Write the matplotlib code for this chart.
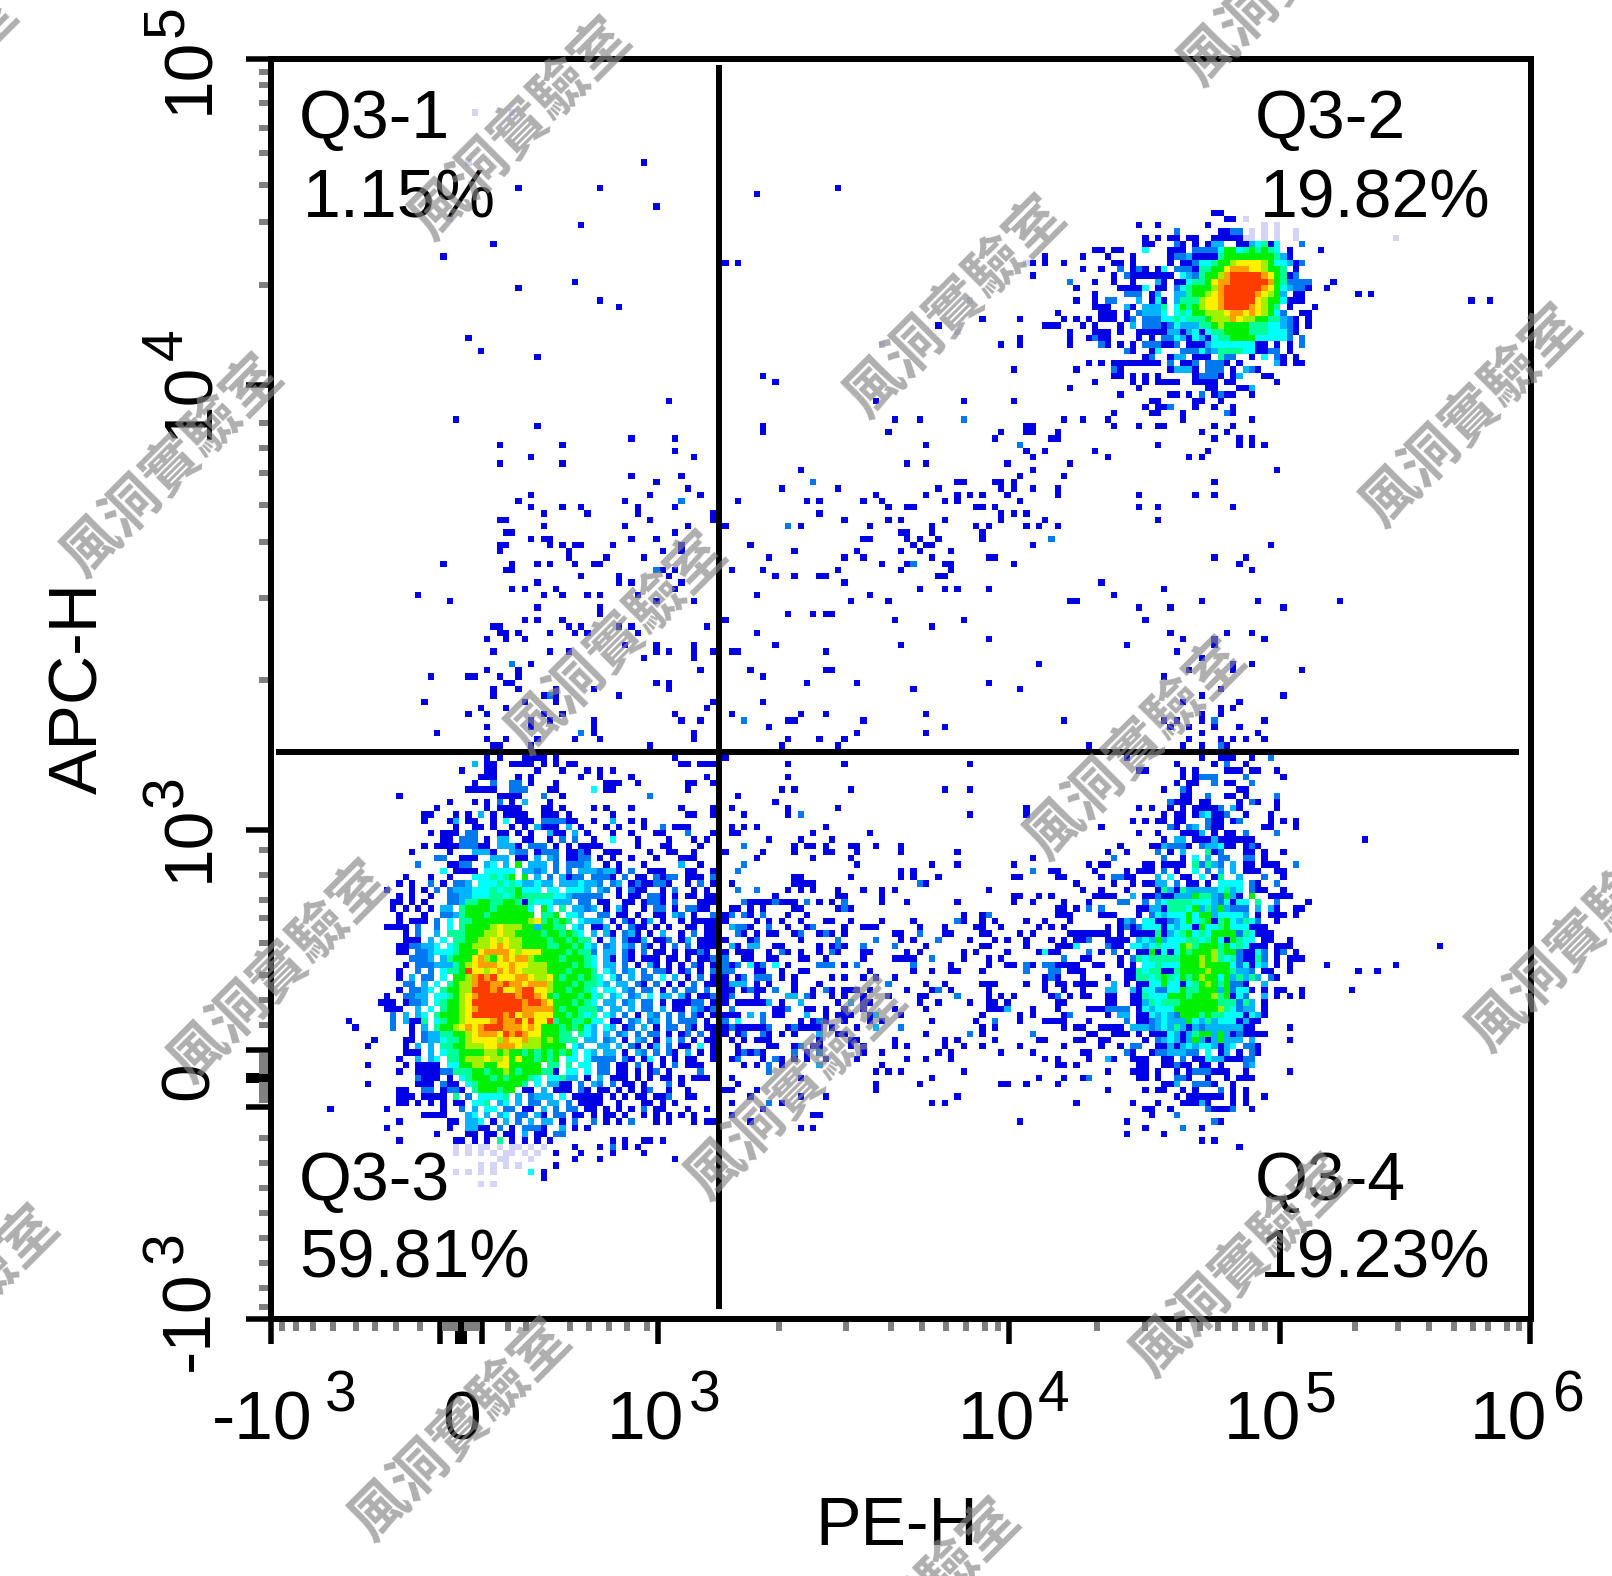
import numpy as np
import matplotlib
matplotlib.use("Agg")
import matplotlib.pyplot as plt
from matplotlib.colors import ListedColormap

W, H = 1612, 1576
CELL = 6.27
X0, Y0 = 270.5, 59.2
N_BINS = 201

# density levels: 0 empty, 1..10 blue to red, 11 = faint lilac
palette = ["#FFFFFF", "#0000E6", "#0078F0", "#00B4FF", "#00FFFF", "#00FF96",
           "#00F000", "#A0F000", "#FFF000", "#FFA000", "#FF3C00", "#D4D4F6"]

# Q3-3 population: one string per histogram row, starts at col 18, row 112
q3_3_rows = [
"..............3.11..1111.1.1.11................11.111.",
"............1...11......1...1...1.1.1.................",
"...............111...1.1.......1..1....1...........1..",
"..............1..2..22.1...1.......111..1.......11..1.",
".............11111..222...11.....4.11...........1.....",
"..1...............1111...2..1.............2...........",
"..........1...1.1.2.1.3...1...........................",
"........1.......1.1111...11.1....1.1...1.......1....1.",
"......11...1.1.3.1.1111..111.1......1...........11..1.",
"......1...13.11..1.4.111.222211..1..3..1.1............",
"...........1..11.1..1.1.3111.3.1...1.1...1..2.111.....",
".......1.111.22...11.1.1..311.3.1...1..1...11...2...1.",
".........11.222.1.33..11..1.2.2..1..4...1....1...1.1..",
"......1.111122211.3331.222.1.1.1111.....1...11....1...",
"....1.....1...3331..322.1222.1121..111....1..11..1...1",
"........22..111..333.11.3.32.1122.1.1..1...1...111....",
".....2....1122..34.3.6.333.2.2223..1.1...1.....3..1..2",
".........4.1111.44444.3323.2.2.3332331.2..111...11..11.",
"...1...1..1...4445456.6.3.2.3122.2221.2.11.2122.111.21",
"..1.1..2.1.223.444545433433.3334332.23.1211221..1.2.1.",
"1...1.1.2.233344454556444.44.444332.23111.12..1..1112.",
"..1.1..1..22334445545655555443222322.211.2212.11.1.11.",
".11.1.1...22355665566515444333.2211.1.12221.2.11..111.",
".1.1.1.1.33.566665666664.64.5.33233.3.1.1.22.3.2211.1.",
"..1...1..223566656666666.556.443.223.3.11.2.32.11..212",
"..1.111.2.4.556666666667856565.433.32.1.31.13.11.11111",
"1111.2..2.4.56666787776636655.43.113.1.211.11..11.111.",
"...1.2..3.5556667787766665665444.3.33.231.1.3.1.2..111",
"...111.3.4.55667787877666655644.55.3.21.3.112.13.11111",
"..1122334.4566777898776666565545.3.53.32.21.1.2.2.1111",
"..11.22344456668999987888667565555.33.2.32.11.1..11.11",
"....2223.35666897689899766666655.445.21.1111.11.1..21.",
"...1.22233356789998898877766765544.433.2.1.3.1.1.2.1.2",
"..1..2.2.4556a88789898777766766554455.3.23.2.22.1.1.21",
"..1.3.22.4.6679a9a888998778676654455525.3.22.4.3.1.212",
"...22.3.4.56779aa99a998999776755554455.33.21.1.1.2.112",
"..1.2234.56677aaa9a889aa8878766545544.32.22.1.2.22.2.2",
"1..2233.4456789aaaaaa9aa9867878615.445.23.4.33.3.1122.",
"11.1223.456678aaaaaaaa9aa987877655.5.33.23.22.1.11122.",
"111..3.4.566789aaaaaaa9999976766555.33.3.22.3.11.3212.",
".2.3.34.566678aaaaa9a899888776665544.43.2.1.32.2.2.21.",
".2.3115.4566788889a99a8a88a89677655.44.11.23.23.2.222.",
".2..1.3.56678989aaa99989866776564.43.12.3.1.22.21.112.",
"....1.233556678999" + "8a9a98866665.54.3.23.2.22.1..2.2..1.",
"...11.2334556788887988977676555.3.23.1.32.1.3.2.1.11..",
"...1.3.3.55667778899987776666.43.33.3.21.13.2..1.4.1..",
"...111.3.4556666776766565656564.4.33.1.32.2.21.3.1.1..",
"..1..3.34.556777877868665656.44.42222.21.14.1.1.11....",
"...1.1111.446677668866666.55.5.44.22.11.2.1.1.2.111...",
"..1..11112255566566765666551.44.4.22.11.1.12.1....2...",
".....2111.1.4566656566654.44533.1.3.111.1.1.11.1.111..",
".....111.211.4566666665.4.3311.2.32.2.11.1...2.1......",
"..11..22.1221.5666566.11.3.111.21.11.1.1.12..1..1.....",
"..111.1111.5.2.44445.3.2333.4.11111.1.1.11.112..11....",
"..11.1.1.1.11.445.34.3.22.33.2.1111..1...11.1.1.......",
"1........1..2.3.44.22.11.3.2.22.11.1.1.1.2.11...1..1..",
"......1111...34.3.34.22.31.22.11.1.11.1..1.1.1.1.1....",
"..1.......11.334.1.3.2.3.33.1.2..2.1.1.2...1.1...1.11.",
"1.........1..3311.2.1.2221..3.1.1.....................",
"........1....11.11.11.3.11.22.........................",
"..1........11.1.1.5.1.1.1.1.........1.1..11.1.........",
"...........l.l.ll.l.ll.l.l....1...1.2.1.1.............",
"...........l.l.l.l.ll.l.l..1...1....1....1............",
"..................ll...l......1...1...........1.......",
"...............l.l.l.l.....1..........................",
"...........l.l.l.l.....4.1............................",
".........................1............................",
"...............l.l....................................",
]
# second reading of the tail of Q3-3 (cols 51-71), first string is row 132
q3_3_tail_rows = [
".32.1.211..1.2..1.1.1", "22..1.11.221.1.11.11.", ".11..11.1221.2...1111", "3.1.31..1.22.1.2211.1",
".22.11.1..11.32.1..21", "33.1.21.13.1..1.11111", "113.1.211.1.1..11.111", "3.31.231.1.3..1.2.111",
".1.3.2113.112.13.1111", "3.23.32.21.1.2.2.1111", "2.33.21.2.11.1.1121.1", "4.31.21.111.11.1.1121",
"3.33.2.1.31.1.1.21.12", "4.43.23.2.221.12.1.21", "34.42.3.22.4.3.1.2.12", "443.33.21.2.1.1.2.112",
"3.44.32.22.1.2.22.2.2", "45.34.23.4.33.31.1122", "4.33.23.22.1.11122.1.", "53.33.3.22.3.11.3212.",
"5.43.2.1.32.2.2.21.12", "44.11.23.23.2.222.1.1", "3.43.12.3.1.22.21.112", "3.3.23.2.22.1.12.2.11",
"3.23.1.32.1.3.2.1.11.", ".33.3.21.13.2.11.4.1.", "3.33.1.32.2.21.3.1.1.", "2222.21.14.1.1.11..1.",
".22.11.2.1.1.2.111...", ".22.11.1.12.1....2...",
]
# green shoulder of Q3-3 on its right flank: cols relative to col 18, by row
q3_3_shoulder = {
139: "27:6 28:5 29:6 30:5", 140: "27:6 28:6 29:5 30:6 31:5", 141: "27:5 28:6 29:6 30:5 31:6 32:4",
142: "27:6 28:6 29:5 30:6 31:5 32:5", 143: "27:6 28:5 29:6 30:6 31:6 32:5", 144: "27:6 28:6 29:6 30:5 31:6 32:5 33:4",
145: "27:6 28:6 29:5 30:6 31:6 32:6 33:5", 146: "27:6 28:5 29:6 30:6 31:5 32:6 33:5", 147: "27:6 28:6 29:6 30:5 31:6 32:5 33:5",
148: "27:6 28:6 29:5 30:6 31:6 32:5 33:4", 149: "27:5 28:6 29:6 30:6 31:5 32:6 33:4", 150: "27:6 28:6 29:6 30:5 31:6 32:5",
151: "27:6 28:5 29:6 30:6 31:5 32:5", 152: "27:6 28:6 29:5 30:6 31:5 32:4", 153: "27:5 28:6 29:6 30:5 31:5",
154: "27:6 28:5 29:6 30:5", 155: "27:6 28:5 29:5",
}

# far left of Q3-3, absolute cols by row
q3_3_left_cells = {150: "17", 153: "12", 154: "13", 156: "16", 157: "15",
                   160: "15", 163: "15", 167: "9"}

# Q3-4 bridge between populations: cols relative to col 72, by row
bridge_cells = {
118: "8", 119: "1 10 18 48", 120: "3 10 12:2 39 48", 122: "1 3 5 16", 123: "1 2 14 23",
124: "7 12 17", 125: "3:2 11 13 14 16 20 21 24 28", 126: "0 6 11 16 17 21 28 37",
127: "5 14 20 49", 128: "3:2 21 33 37 46", 129: "2:2 28 30 49:2 52 53",
130: "11 12 20 28 30 34 46 47", 131: "1 11 12 13 14 31:2 32",
132: "2:2 5:2 10 12 14 18 22 25 27 42", 133: "8 18 19 25 46 47 50 52",
134: "3:2 4 5 6 7 8:2 9 10 11 13:2 15 17 19:2 25 29 37 46 49",
135: "1 2 4 6 11 12 18 19:2 20 53", 136: "0 1:2 3:2 4 6:2 10 13 38 41 42:2 53",
137: "0 5 7 9 12 16 17 20 25 30 37:2 38 41 43 48 51",
138: "1:3 2:2 3:2 4 7:2 10 13 14:2 19 22 23 24 31 35 40 41 44 50 52",
139: "2:2 3 5 7 8 11 12:2 15 16:2 17 19 27 28 31:2 35 36 41 42 47 49",
140: "0 4 5:2 12 18:2 24:2 28 30 34:2 39 43 45 48 52",
141: "1:3 2 4:3 5:3 8 9 15 17 18:2 19 22:2 27:2 32 41 42 48 53",
142: "0 2 3 4 7 9:2 10 12 15 17:2 18 22 23 29 31 38 40 45 50 51:4 52 53",
143: "0:2 3 4 7 8 12 13 16 22 27 28 29 30 33:2 38 42 44",
144: "0:2 1 2:2 4:4 5 6:2 8:4 10 15:2 16:2 17:2 19 21:2 30:2 36 42 45 46 48:2 49 51:2 52:2",
145: "0:2 1:2 5 6 9 12 13 23 30 33 36 37 41 48:2 52:2 53",
146: "0 2 3:2 5:2 6:2 7:2 9 11 17 19 22 24 27 51 52:2",
147: "0 1:3 2:3 3:3 5 7 11 15 26:2 32 35 41 42 43 48 51 53",
148: "0 1 3 4:2 5 6 8:2 11 14 16:2 17 19 20 21 23 29 33 34:2 36 42 51",
149: "0 1:2 5 10:3 11:3 13:2 14 17 19 22 26 31 32 37:2 42 44 46 52 53:3",
150: "0 2 3 4 5 6 7:3 9 12:3 18 20:3 22 23 31 34 39 42 43 45 53",
151: "1:2 8 9 10:2 13 14 16 19 22 27 32 42 43 44 45:3 49 53",
152: "0 1 2 4:3 6:2 8 9 13:3 16 18 19 20 23 24:3 28 41 47 49",
153: "0:2 2:4 6:2 12 14 15:2 16 19 23 25 33 40 43:2 47 51 52 53",
154: "0 1:2 2 3 4 5 6 7:2 10 11:2 12 13 14 15 17 21 24:3 28:2 41 43",
155: "0 2 3:2 6:2 7 9 11 15:3 18 19 32 39:2 41 49:2",
156: "1 3 5 6 7 15 20 21 27 35 37 43 50 51",
157: "2 7 8 11 12:2 14 15 20 22 27 29 35 38 41 47",
158: "2 3:2 4 5:2 6 11:2 13 15:2 22 25 34 36 44 49",
159: "1 2:2 6 8:2 9 11 13 16 21 29 32 36 51 53", 160: "3 5 7:2 9 15:3 25 53",
161: "7:2 24 26 28 38", 162: "1 12 33 50", 163: "2 24 31 44 45 48 53", 164: "0 1 5 24",
165: "4 12 16 37", 166: "1 7:2 9 33 35", 167: "6", 168: "1 14 15", 169: "4 47", 170: "12 14",
}

# Q3-4 population: cols relative to col 125, rows relative to row 112
q3_4_cells = [
"19 25 27:2 30", "13 14 20 22 27 28 29 31 32 35", "20 22 23:2 24:2 25:2 30:2 36",
"19 21 22 25:2 27 28 31:2", "17 20:2 21 29 30", "20 21 24:2 27 28 30 35:2",
"18:2 19 20 21 23 24 29 31:2 32 35", "13 15 18 20 22 23 24 25 26:2 28:3 29 35",
"17 19 20 22 23:3 24:4 25 26 27:2 30 34", "12 14 16 17 19 20 24:2 25 26 28 29:2 34 36 38",
"7 18:2 19 21:2 22:3 24:2 25 26 33 34 38", "13 16 20 21 22 23:3 25 27 28 30:2 35:2",
"17 19:3 20:3 22 23 24 25:3 26 27 28 29 30 31", "10 15 16 17:3 18:2 19:2 20:2 21 23:2 24:3 25:3 26:4 27 28 30 31:2 32",
"8 11 16:2 18 20:3 24:5 25 26:2 30 31 33 36", "9:2 17:2 20 22:4 24:3 26:2 27:2 30:2 31:2 33",
"5 7 8 14 15 17 18 19 20 22:5 23:2 24:5 25:3 26:2 28:3 30 31 33 34 35 38:2",
"6 11 13 14 15 17:2 19 22:4 24:2 26:3 28:3 30 31 32 35 36",
"0 1 7 9:2 10:2 11 12 16:3 18:4 20 21 23:4 25 26:5 29:3 33:2 36",
"3 9 12 14 15 16:3 17:3 19:2 21 22 24 26:4 27:4 28:4 29:4 31:2 32 35:2",
"4 7 11 16 17:5 19 20:5 22:3 24:3 26:4 27:5 29:4 31:2 32 33 36",
"6 7 8 9 12:3 14 15 16:2 17 18 20:3 21:3 22:6 23:5 24:5 26:2 27:6 29 31:6 34 35 36 37",
"1 5 10:2 11:2 14:2 16:3 18:5 19:5 20:5 21:5 23:4 25:3 26:2 28 32:5 35:2 40",
"0 1 3 5:2 7:2 13 14 16:3 17 18:5 19:5 20:5 21:4 22:6 24:5 26:6 28:2 29:2 30:2 32:3 34:3 35 38 39",
"0 1 2 7 8 9 13 15:2 17:3 19:4 21:6 23:6 24:6 25:3 27:4 30:3 32 34 35 36 38",
"2 10 11:3 12:2 16 17 18:2 19:3 21:6 23:5 24:6 25 26:5 27:6 29:3 30:5 32:2 35",
"1 8 10 11:2 12 13:2 17 19:3 20:4 22 23:6 25:4 26:5 27:6 28:4 31 32 33",
"2 3 4 5 6 7 8 10 12 13 14 15 16:5 17 18:3 20:5 21:6 23:5 25:6 26:6 27:6 28:6 29:2 30:5 32 33 34",
"1 3 4 5:2 8 9 10 11 13:3 15:3 16:6 17:3 19:4 21:5 22:5 24:5 25:6 27 28:6 29:5 33 34 37",
"0 1 2 3:4 8:2 9 10 12:4 14:3 16:5 18:4 20:6 21:7 22:5 23:6 24:6 26:5 27:6 29:5 31 32 33 35 36 37",
"0 5:2 7 9:2 11 13 14 15:6 16 18 20:6 21:5 23:6 24:6 25:7 26:5 28:6 29:2 30 31 33:2 35 36:2 38",
"1:2 4 5 10 12:2 14:4 16:5 18:5 21:6 22:6 23:7 25:7 26:5 27:4 29:2 30 31 33:2 35 37 38 39",
"0 1 2 3 6 7 10 12 14:4 15:4 16:5 18:4 20:6 21:6 23:7 24:6 25:6 26:6 27:6 29:2 31 33:3 35 37 43",
"0:2 2 3 4 11 12 14:4 17 18 20:6 21:6 22:6 24:7 25:6 27:6 29:3 30:3 31:2 33 34 37",
"0 4 8 11 12 15:4 17:6 19:4 21:5 23:7 24:6 26:4 28:3 30:3 32:3 34:2 35",
"0 1 3 4 5 6 9:3 11 13 14 16:4 17:6 20 21:4 22:5 23:6 24:7 26:5 28:2 29:2 30 33:3",
"1 4 8:3 9:3 12:3 13 16:2 17:2 18:4 21:5 22:5 24:6 26:3 28:2 31 33 35 36 39",
"0:2 2 4 5 8 9 12 13 14:5 18:6 19:6 21:5 23:6 24:6 25:7 26:5 28 30:2 33:3 35 37 39",
"0 1 8 9 12 13 14:3 16:4 17:5 18:5 20:6 21:6 23:6 24:6 26:5 27:5 29:2 31:3 33",
"0 5 6 7 8:2 9:2 10:2 11:2 13 15:3 17:4 19:6 20:6 22:6 24:6 26:7 27:5 29:2 30:3 31:3 33",
"1 2:2 8 10:3 11:3 13 14 16:3 18:3 19:2 21:6 23:5 25:5 26:5 27:4 30 32:3 33",
"0 1 5 11:2 13 14 15:2 17:4 20:3 21:6 22:4 24:5 26:4 27:4 28:4 29 31 32",
"1 3 4 7 8 9 10 12:3 13:3 15:2 17:4 19:5 21 23:2 24:3 26:3 27:3 30 31 37",
"5 6 9 10 11 13 15 16 17 18:4 20 22:5 23:6 24:6 26:6 28 29:2 30 31 32 33",
"3 4 7 8 14 16:2 18:4 20 21:3 22:6 24 26:6 27:3 31:3 37",
"1 7 10 12:2 13:2 16 17 19 21:4 23:4 24:4 26 28:4 30:2 31:2 32",
"4 5 11:2 12 15 16:2 17:2 18:3 19:3 20:3 21:2 22:2 24:4 26 27:3 29 31:2 32",
"0 5 8:3 9 12 13 14 17 18 20:2 22 23 24:4 25:3 26:3 27 28 29 30:2 31:2",
"0 1 3 13 14 17 18 19:2 20 21 23 24 26 30:2 31:3",
"8 12 13 14 16 19 21 22:2 23:2 24:2 25 26 27 30 37",
"1 4 5:2 13 14 16 19:2 20:2 21 24 27 29 30 31", "0 17 18 19:3 22:2 23:2 24:2 25 28",
"8 14 16 17 20 22 26:2 28 30", "19 21 22 23 24 25 26 28 30 33", "3 12 16 20 21 22 23:3 24 28 30",
"14 15 18 24:2 25 26 27 28:2 31", "15 19:2", "11 25:2 26", "14 20:2 23", "11 17", "23 25", "29",
]
# background level of the Q3-4 core, written only into bins left empty above
q3_4_core = {
20: "17-29:3", 21: "17-29:3", 22: "16-30:4", 23: "15-30:3", 24: "15-30:4", 25: "14-31:4",
26: "14-31:4", 27: "14-31:4", 28: "13-31:4", 29: "20-27:6 13-31:4", 30: "20-27:6 13-32:4", 31: "20-27:6 13-32:5",
32: "20-27:6 14-32:4", 33: "20-27:6 13-31:5", 34: "20-27:6 13-31:5", 35: "20-27:6 14-30:4", 36: "20-27:6 13-30:4",
37: "20-27:6 13-30:4", 38: "20-27:6 13-31:5", 39: "20-27:6 13-31:4", 40: "20-27:6 13-31:4", 41: "13-31:3", 42: "14-30:3",
43: "16-29:3", 44: "16-29:3", 45: "17-28:3",
}

# Q3-2 population: cols relative to col 125, by row
q3_2_cells = {
24: "25 26", 25: "27 28 30:l", 26: "13 16 24 33:l 35:l", 27: "19:2 26 27 28:2 29:2 31:l 33:l 35:l 38:l",
28: "14 16 18 19 21 22 25 26 27 28 29 30:l 31:l 33:l 35:l 38:l",
29: "14 15 19:2 20 22 24 25:3 26:3 29 30 31:3 32:4 33:5 34 35:4 39:2",
30: "6 7 9 10 14:4 18 19 20 22:2 23:2 24:2 25:2 26:4 27:6 28:6 29:4 30:5 31:6 32:5 33:6 34:5 35:4 37 42",
31: "4 8 12 18 19:2 20:2 21:3 22 23 24 25 26:5 27:6 28:6 29:6 30:6 31:6 32:6 33:6 34:6 35:5 36:3 37",
32: "1 9 10 12 18 20 21 22:2 23:4 24:4 25:5 26:6 27:6 28:7 29:8 30:8 31:8 32:8 33:7 34:6 35:4 36:4 37:3 38 39:2",
33: "4 7 10:2 12 13:2 14 16 17:4 19:2 20:2 21:2 22 23:5 24:5 25:6 26:6 27:8 28:9 29:9 30:9 31:8 32:8 33:7 34:6 35:6 36:5 38",
34: "9 11:2 12 13 14 15 16 17 18 20:4 21:3 22:2 23:5 24:6 25:6 26:7 27:9 28:a 29:a 30:a 31:a 32:a 33:9 34:8 35:6 36:5 37 38:2",
35: "2:2 6 9 12 16:3 17 19 20 21:4 22:5 23:5 24:6 25:8 26:9 27:9 28:a 29:a 30:a 31:a 32:a 33:a 34:9 35:6 36:5 37:2 38:2 39:2 40:2 44",
36: "3 10 11 12 13 14:4 16 17 19:2 20:4 21:5 22:6 23:6 24:6 25:7 26:9 27:a 28:a 29:a 30:a 31:a 32:a 33:9 34:8 35:6 36:4 37:3 38:2 39:2 40 43",
37: "6 11:2 12:2 13:2 15 16:3 19:3 20:3 21:5 22:6 23:6 24:7 25:8 26:9 27:a 28:a 29:a 30:a 31:a 32:9 33:8 34:7 35:6 36:3 38 39",
38: "3 6 8:2 9:2 13:3 15 16:4 17 19:3 20:5 21:5 22:5 23:7 24:8 25:8 26:9 27:a 28:a 29:a 30:a 31:a 32:8 33:7 34:6 35:6 36:4 37 38 39",
39: "6 7 8 11:3 12 14:3 15:3 16:3 17:5 19:4 20:6 21:5 22:6 23:7 24:8 25:8 26:9 27:a 28:a 29:a 30:a 31:9 32:8 33:7 34:6 35:5 37 41",
40: "0 7 8 9 11 13:2 14:3 15:3 16:3 17:4 19:4 20:5 21:4 22:6 23:6 24:7 25:7 26:7 27:8 28:9 29:9 30:8 31:9 32:8 33:7 34:6 35:4 36:2 39 40",
41: "1 3 5 7 8 9 11 12:2 14:2 15:2 16:2 17:4 18:4 19:5 20:4 21:5 22:5 23:5 24:6 25:7 26:7 27:7 28:9 29:8 30:7 31:7 32:6 33:6 34:5 35:5 36:3 37:2 38 40",
42: "0 4 6 10 12:3 14:2 15:2 16:2 17 18:2 19:4 20:3 21:3 22:3 23:5 24:5 25:6 26:7 27:6 28:6 29:6 30:6 31:5 32:5 33:5 34:4 35:4 36:3 37:2 38 40",
43: "2 6 7 8 10 13 14 15 16 17 18:3 19:3 20 21:3 22:4 23 24:4 25:5 26:5 27:6 28:6 29:6 30:6 31:5 32:5 33:5 34:4 35:4 36:4 37:2 38",
44: "2 5 6 7 8 13 15 17:2 18:2 19:4 20:3 21 22:4 23:3 24 25:4 26:5 27:5 28:6 29:6 30:6 31:6 32:4 33:4 34:4 35:4 36:4 37:2 39:2",
45: "2 7:2 8 10 12 14:2 15:2 16:2 17 18 19:2 21 22 23 24:3 25:4 26:4 27:4 28:4 29:4 30:4 31:4 32 33 35 37 39:2",
46: "11:2 12 15 16:4 20:2 21:2 22:2 23:4 24:2 25:3 26:5 27:5 28:5 29:5 30:4 31:4 32 33 34:2 35:2 37",
47: "14 15:2 18 19:3 20:3 22 23 24 26:5 27:2 28:2 31 33:4 35:2 36 38",
48: "5 7 9 10 11 12 13 14 15 16 18:2 20 21 22:2 24:2 25:2 26:2 27 29 35:3 36 38 39",
49: "3 9:2 10 18 19:3 20:3 21:3 22 24:2 25:2 26:2 28 30:3 31:2 32",
50: "9 10 12 14 16 22 23:2 24:2 25:2 26 28 29:3 33 34", 51: "6 12 14 16 17 18 19 22 23 24 25 27 28 35",
52: "2 13 24 25 29 30 31:3", 53: "10 18 19 21 23:2 25 26:2 27 28 31", 54: "15 16 22 23 26",
55: "14 16 17 18:2 22 25 28", 56: "9 15 16 20 27:2 28", 57: "1 4 8 20 31", 58: "9 13 16 17 25 28",
59: "0 23 27", 60: "0 25 29 31", 61: "16 29 31 33", 62: "6 24", 63: "8 21 23", 64: "2", 65: "35",
}

# scattered events, absolute cols by row
upper_left_cells = {
8: "32:l 38:l", 16: "59 31:l", 20: "39 52", 23: "61", 25: "28:l", 26: "49", 29: "35", 31: "27",
35: "48", 36: "39", 38: "52", 39: "55", 44: "31", 46: "33", 47: "42", 54: "63", 57: "29", 58: "42",
60: "57 64", 61: "36 46", 62: "64", 63: "41 67", 64: "36 46", 66: "57 65", 67: "61", 68: "66",
69: "41 60 68", 70: "39 56 65:2", 71: "41 46 49 58 64", 72: "43 50 58 70", 73: "36 37 60 70",
74: "43 56 66 72", 75: "37 38 64", 76: "41 43 44 57 61", 77: "36 37 44 46 48 49 54 65",
78: "36 47 62 65", 79: "47 53 59", 80: "27 38 42 44 48 51 52", 81: "37 38 61:2 62 64 73",
82: "49 55 63", 83: "42 55 57 65", 84: "38 40 45 64", 85: "23 43 46 50 52 58", 86: "28 61 67",
87: "42 52", 88: "52", 89: "40 42 46 72", 90: "35 36 47 49 55 57 69", 91: "36 37 39 44 48 50 58",
92: "34 37 40 71", 93: "56 61 67", 94: "35 44 47 61 63 67 70 73 74", 95: "59 67", 96: "38:2 41",
97: "34 39 68", 98: "25 31 32 36 39", 99: "37 38 61 63", 100: "35 39 45 51 63", 101: "35 43 44:2 45 55",
102: "24 40 45 70", 103: "33 37 69", 104: "31 34 43 46 64 73", 105: "41 44 51 65 68", 106: "34 41 51",
107: "26 49:2 51 67", 108: "34 37 42 48 52 67", 109: "35 36 41 60", 111: "34 36 40 41 42 43 45 64 72",
}
upper_mid_cells = {
20: "90", 21: "77", 31: "123", 30: "131 132", 32: "72 74 120:l 121 123 126", 33: "129 132", 34: "121",
35: "127:2 131", 36: "128", 37: "131", 38: "111:l 128 131", 39: "131", 40: "125 132", 41: "113 119 126 128 130",
42: "106 123 124 129 131", 43: "109:l 127 131", 44: "119 127 130 131:2", 45: "97:l 116 119 127 132:2",
48: "130 132", 49: "118 128", 50: "78", 51: "80 131", 52: "127", 54: "96 110 118",
56: "134", 57: "99 103 110:2 126 129 133", 58: "78 120 121 134", 59: "78 98 116 120 121 125",
60: "115 124", 61: "104 119:2", 62: "120 123 131", 63: "121 133", 64: "101 104 117 127", 65: "84 121",
66: "119 126", 67: "86:2 109 110 115 116 118", 68: "81 90 106 116 118 121 125", 69: "96 104 109 111 113 117 125",
70: "74 85 87 94 97 107 109 119", 71: "98 101 102 112 113 115", 72: "87 116 118 120", 73: "91 98 100 107 116 123",
74: "72 82:2 84 95 105 112 114 120 122 125", 75: "100 101 105 113", 76: "94 95 101 103 106 113 124:2",
77: "76 102 104 105 121", 78: "83 93 100 103 108", 79: "79 91 94 105 114 115", 80: "97 101 102:2 107 108 118",
81: "73 78 90 100 108", 82: "80 83 87 88 106 107", 83: "91 132", 84: "103 107 109 114", 85: "77 95 134",
86: "92 98 127 128", 88: "82 86 88 89", 89: "72 99 110", 90: "105", 91: "77", 92: "114", 93: "80 100",
94: "73 74 88", 96: "122", 97: "76 88 89", 98: "78", 99: "85 93 114", 100: "102 119", 102: "78",
104: "73 84 88 104", 105: "75:2 82 83 94 126", 106: "79 107", 107: "93 104", 108: "82 87 91", 109: "81 90 130",
112: "82 91 111", 114: "82", 116: "81 83 92 107 111", 117: "74",
}
upper_right_cells = {
28: "179:l", 37: "173 175", 38: "191 194", 60: "150 156", 61: "141 154 156 158", 62: "149", 63: "146 148",
65: "160", 67: "150", 69: "138 147 150", 71: "138 141 153", 73: "141", 77: "159", 79: "150 155", 80: "154",
81: "156", 84: "142", 85: "134", 86: "148 157 170", 87: "138 143 161", 89: "139", 91: "143 152 156",
92: "145 150 158", 93: "136 150", 94: "144", 95: "148", 96: "153 156", 97: "146 153 164", 98: "142",
100: "151", 101: "148 161", 102: "145 154", 103: "151 153", 104: "148 151", 105: "142 144 148 150:2 158",
106: "143 146 150 154", 107: "148 157", 108: "146 151 153 155 158", 109: "145 148 151:2 152",
111: "136 148 151 152 153 156 159:2", 124: "174", 141: "186", 144: "179", 145: "173 176", 148: "172",
}

# y ticks and x ticks, in image rows / columns of the original frame
x_major_px = [270, 439.5, 461, 482, 658, 1009, 1279.6, 1530]
x_minor_px = [282, 295.6, 313, 332.6, 356, 374.7, 395.7, 420, 445, 450, 455, 467, 472, 477,
              507.7, 526, 570, 588.5, 608.7, 627, 646.6,
              778.7, 846, 890.7, 921.8, 945.4, 965.6, 985, 997.6,
              1097, 1145, 1178.5, 1199.6, 1218, 1235, 1252, 1265,
              1355, 1398, 1429, 1454, 1473, 1487.5, 1507, 1519]
y_major_px = [59, 385, 830, 1050, 1078, 1107, 1319]
y_minor_px = [72, 85, 103, 128, 153, 185, 222, 285,
              423, 448, 473, 505, 542, 598, 680,
              850, 875, 900, 918, 943, 975, 1000, 1025,
              1056, 1061, 1066, 1071, 1085, 1090, 1095, 1100,
              1138, 1163, 1188, 1213, 1238, 1263, 1288, 1307]

quadrant_labels = [("Q3-1", "1.15%", 299, 303, 138, 217), ("Q3-2", "19.82%", 1255, 1260, 138, 217),
                   ("Q3-3", "59.81%", 299, 299, 1200, 1278), ("Q3-4", "19.23%", 1255, 1260, 1200, 1278)]
watermark_centres = [(521, 128), (956, 306), (1472, 415), (173, 465), (617, 642), (1136, 748),
                     (280, 971), (797, 1088), (1578, 940), (1242, 1265), (461, 1429), (910, 1609),
                     (1290, -26), (-92, 103), (-51, 1316)]


def put(grid, col, row, level, only_empty=False):
    if 0 <= row < N_BINS and 0 <= col < N_BINS:
        if not only_empty or grid[row, col] == 0:
            grid[row, col] = level


def put_tokens(grid, row, text, base=0, only_empty=False):
    for token in text.split():
        cols, _, lev = token.partition(":")
        level = 11 if lev == "l" else int(lev or "1", 16)
        first, _, last = cols.partition("-")
        for col in range(int(first), int(last or first) + 1):
            put(grid, col + base, row, level, only_empty)


grid = np.zeros((N_BINS, N_BINS), dtype=int)
for r, s in enumerate(q3_3_rows):
    for k, ch in enumerate(s):
        if ch != ".":
            put(grid, 18 + k, 112 + r, 11 if ch == "l" else int(ch, 16))
for r, s in enumerate(q3_3_tail_rows):
    for k, ch in enumerate(s):
        put(grid, 51 + k, 132 + r, 0 if ch == "." else int(ch, 16))
for table, base in [(q3_3_shoulder, 18), (q3_3_left_cells, 0), (bridge_cells, 72), (q3_2_cells, 125),
                    (upper_left_cells, 0), (upper_mid_cells, 0), (upper_right_cells, 0)]:
    for row, text in table.items():
        put_tokens(grid, row, text, base)
for j, text in enumerate(q3_4_cells):
    put_tokens(grid, 112 + j, text, 125)
for j, text in q3_4_core.items():
    put_tokens(grid, 112 + j, text, 125, only_empty=True)

plt.rcParams["font.family"] = ["Liberation Sans", "DejaVu Sans"]
fig = plt.figure(figsize=(W / 100, H / 100), dpi=100, facecolor="white")
ax = fig.add_axes([X0 / W, 1 - 1319 / H, (1531 - X0) / W, (1319 - 59) / H])
edges = np.arange(N_BINS + 1)
ax.pcolormesh(edges, edges, grid, cmap=ListedColormap(palette), vmin=-0.5, vmax=11.5,
              shading="flat", zorder=1)
ax.set_xlim(0, N_BINS)
ax.set_ylim(N_BINS, 0)


def col_of(px):
    return (px - X0) / CELL


def row_of(px):
    return (px - Y0) / CELL


pt = 72 / 100
for s in ax.spines.values():
    s.set_linewidth(6 * pt)
    s.set_color("black")
ax.set_xticks([col_of(p) for p in x_major_px])
ax.set_yticks([row_of(p) for p in y_major_px])
ax.set_xticks([col_of(p) for p in x_minor_px], minor=True)
ax.set_yticks([row_of(p) for p in y_minor_px], minor=True)
ax.tick_params(which="major", length=25 * pt, width=5.5 * pt, color="black",
               labelbottom=False, labelleft=False, direction="out")
ax.tick_params(which="minor", length=12 * pt, width=6 * pt, color="#808080", direction="out")
ax.xaxis.get_major_ticks()[2].tick1line.set_markeredgewidth(12 * pt)
ax.yaxis.get_major_ticks()[4].tick1line.set_markeredgewidth(10 * pt)

ax.plot([col_of(719), col_of(719)], [row_of(65), row_of(1309)], color="black",
        lw=6 * pt, solid_capstyle="butt", zorder=3)
ax.plot([col_of(276), col_of(1519)], [row_of(752.7), row_of(752.7)], color="black",
        lw=6 * pt, solid_capstyle="butt", zorder=3)


def txt(x, y, s, size, **kw):
    kw.setdefault("ha", "left")
    kw.setdefault("va", "baseline")
    return fig.text(x / W, 1 - y / H, s, fontsize=size, color="black", **kw)


for name, pct, x1, x2, y1, y2 in quadrant_labels:
    txt(x1, y1, name, 49)
    txt(x2, y2, pct, 49)

# bottom axis numbers
txt(212, 1440, "-10", 50)
txt(325, 1411, "3", 41)
txt(462, 1440, "0", 50, ha="center")
for x, sx, sup in [(607, 689, "3"), (958, 1038, "4"), (1224, 1305, "5"), (1470, 1552, "6")]:
    txt(x, 1440, "10", 50)
    txt(sx, 1411, sup, 41)
txt(897, 1545, "PE-H", 49, ha="center")

# left axis numbers
rot = dict(rotation=90, rotation_mode="anchor", ha="center")
txt(208, 1321, "-10", 50, **rot)
txt(182, 1247, "3", 41, **rot)
txt(208, 1081, "0", 50, **rot)
for y, sy, sup in [(843, 791, "3"), (400, 344, "4"), (75, 21, "5")]:
    txt(208, y, "10", 50, **rot)
    txt(182, sy, sup, 41, **rot)
txt(97, 688, "APC-H", 49, **rot)

for x, y in watermark_centres:
    fig.text(x / W, 1 - y / H, "風洞實驗室", fontsize=41, color="#878787", alpha=0.667,
             rotation=45, rotation_mode="anchor", ha="center", va="center", zorder=20,
             family=["Noto Sans CJK TC", "DejaVu Sans"], fontweight="bold")

fig.savefig("out.png", dpi=100, facecolor="white")
